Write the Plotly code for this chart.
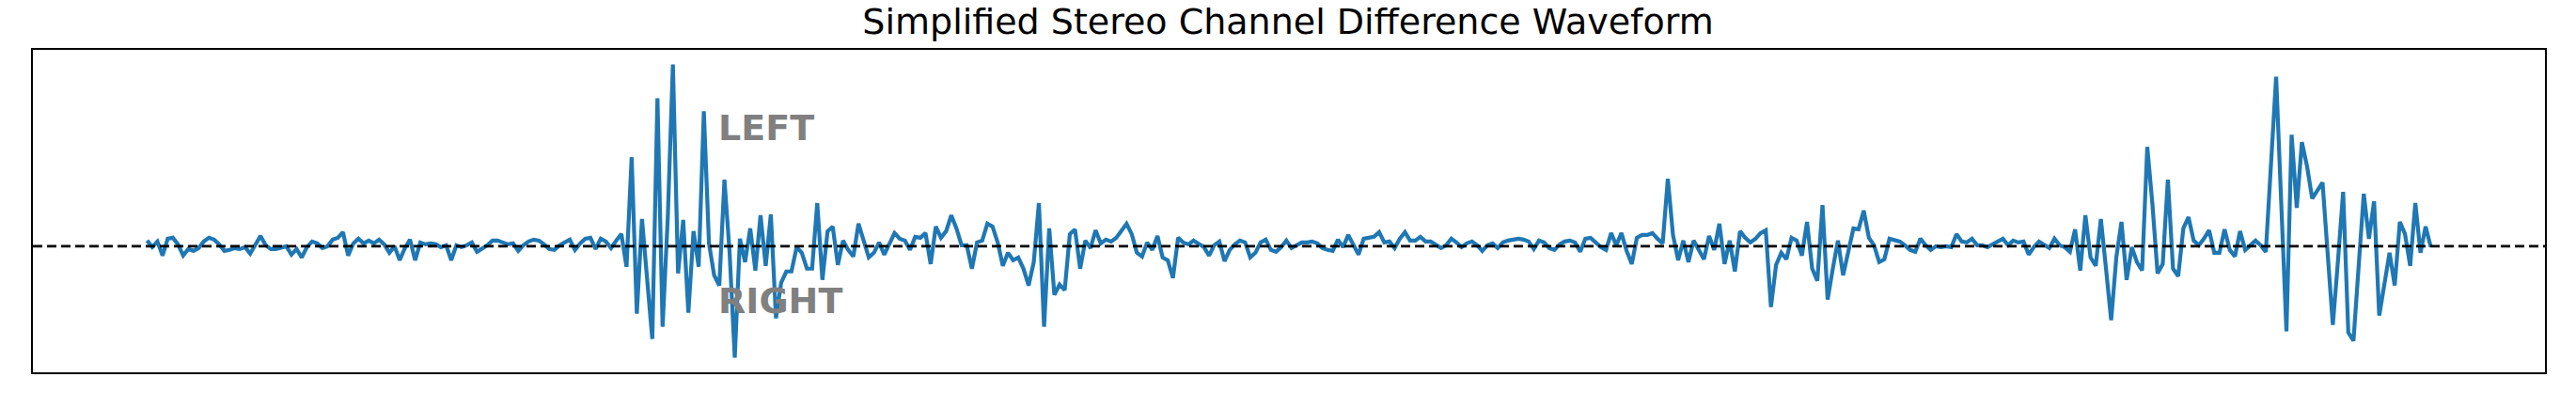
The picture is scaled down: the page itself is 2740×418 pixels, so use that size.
import numpy as np
import plotly.graph_objects as go

# Waveform values (channel difference), read segment by segment from left to right
seg_01 = [0.06, -0.01, 0.05, -0.10, 0.08, 0.09, 0.02, -0.10, -0.03, -0.05, -0.02, 0.05, 0.09, 0.07, 0.02,
          -0.05, -0.04, -0.02, -0.03, -0.01, -0.08, 0.01, 0.11, 0.01, -0.03, -0.03, -0.02, 0.00, -0.09, -0.03,
          -0.12, -0.01, 0.05, 0.03, -0.02, 0.00, 0.07, 0.09, 0.15, -0.10, 0.03, 0.08, 0.03]
seg_02 = [0.06, 0.03, 0.07, 0.02, -0.07, 0.00, -0.15, -0.02, 0.07, -0.15, 0.04, 0.02, 0.03, 0.02, -0.01,
          0.01, -0.15, 0.01, -0.01, 0.01, 0.04, -0.06, -0.03, 0.01, 0.06, 0.06, 0.04, 0.02, 0.03, -0.05,
          0.01, 0.05, 0.07, 0.06, 0.02, -0.03, -0.04, 0.01, 0.04, 0.07, -0.04, 0.03, 0.08, 0.09, -0.03, 0.08]
seg_03 = [0.05, -0.02, 0.06, 0.13, -0.22, 0.95, -0.72, 0.29, -0.35, -0.99, 1.58, -0.86, 0.30, 1.94, -0.29,
          0.28, -0.71, 0.16, -0.22, 1.44, 0.03, -0.31, -0.42, 0.71, -0.07, -1.19, 0.08, -0.17, 0.19, -0.26,
          0.33, -0.21, 0.34, -0.77, -0.39, -0.27, -0.27, -0.01, -0.07, -0.24, -0.24, 0.46, -0.36, 0.16, 0.21]
seg_04 = [-0.20, 0.06, -0.04, -0.11, 0.24, 0.06, -0.12, -0.07, 0.04, -0.09, 0.03, 0.14, 0.08, 0.06, -0.04,
          0.10, 0.09, 0.14, -0.19, 0.21, 0.09, 0.16, 0.33, 0.19, 0.01, 0.01, -0.24, 0.04, 0.06, 0.24,
          0.21, 0.04, -0.21, -0.07, -0.15, -0.12, -0.24, -0.42, -0.17, 0.46, -0.86, 0.19, -0.52, -0.41, -0.47, 0.13]
seg_05 = [0.18, -0.24, 0.06, -0.02, 0.17, 0.03, 0.07, 0.05, 0.09, 0.17, 0.24, 0.13, -0.07, -0.11, 0.04,
          -0.04, 0.11, -0.12, -0.15, -0.34, 0.09, 0.04, 0.02, 0.06, 0.03, -0.01, -0.10, 0.01, 0.05, -0.16,
          -0.04, 0.02, 0.06, 0.04, -0.12, -0.07, 0.04, 0.07, -0.04, -0.06, -0.01, 0.06, -0.02, 0.01, 0.04]
seg_06 = [0.04, 0.05, 0.03, -0.02, -0.04, -0.05, 0.07, -0.01, 0.12, 0.01, -0.09, 0.08, 0.09, 0.10, 0.15,
          0.04, 0.05, -0.02, 0.08, 0.15, 0.06, 0.06, 0.10, 0.05, 0.05, 0.01, -0.02, 0.01, 0.08, 0.04,
          -0.01, 0.03, 0.05, 0.01, -0.05, 0.01, 0.03, -0.02, 0.04, 0.06, 0.07, 0.08, 0.07, 0.05, -0.03, 0.06]
seg_07 = [0.04, -0.02, -0.04, 0.02, 0.05, 0.06, 0.04, -0.06, 0.08, 0.09, 0.04, -0.01, -0.04, 0.14, 0.01,
          0.14, -0.05, -0.19, 0.09, 0.12, 0.12, 0.14, 0.08, 0.03, 0.72, 0.12, -0.15, 0.06, -0.17, 0.06,
          -0.04, -0.14, 0.11, -0.04, 0.24, -0.19, 0.06, -0.27, 0.16, 0.09, 0.04, 0.08, 0.14, 0.17, -0.65, -0.20]
seg_08 = [-0.07, -0.14, 0.09, 0.06, -0.10, 0.26, -0.24, -0.37, 0.44, -0.57, -0.24, 0.06, -0.31, -0.07, 0.19,
          0.18, 0.38, 0.09, 0.01, -0.17, -0.14, 0.08, 0.06, 0.05, 0.01, -0.04, -0.06, 0.08, 0.01, -0.04,
          0.00, -0.01, 0.00, -0.01, 0.13, 0.05, 0.04, 0.08, 0.01, 0.01, -0.01, 0.02, 0.06, 0.08, 0.01]
seg_09 = [0.06, 0.04, 0.05, -0.09, -0.01, 0.05, 0.01, -0.02, 0.08, 0.01, -0.01, -0.06, 0.18, -0.26, 0.33,
          -0.12, -0.21, 0.29, -0.24, -0.79, -0.12, 0.26, -0.36, -0.01, -0.17, -0.26, 1.06, 0.45, -0.29, -0.19,
          0.71, -0.24, -0.32, 0.19, 0.31, 0.06, 0.01, 0.08, 0.17, -0.07, -0.07, 0.18, -0.04, -0.11, 0.16, -0.04]
seg_10 = [0.01, 0.06, 0.01, -0.06, 0.87, 1.81, 0.45, -0.91, 1.19, 0.41, 1.11, 0.85, 0.51, 0.60, 0.68,
          -0.08, -0.84, -0.15, 0.58, -0.92, -1.01, -0.22, 0.56, 0.08, 0.48, -0.74, -0.40, -0.07, -0.42, 0.26,
          0.13, -0.21, 0.46, -0.07, 0.21, -0.01]

segments = [seg_01, seg_02, seg_03, seg_04, seg_05, seg_06, seg_07, seg_08, seg_09, seg_10]
diff_values = np.concatenate([np.array(s, dtype=float) for s in segments])
sample_index = np.arange(len(diff_values))

title_text = "Simplified Stereo Channel Difference Waveform"
label_left = "LEFT"
label_right = "RIGHT"
label_x = 110.5
label_left_y = 1.26
label_right_y = -0.58

# autoscale like matplotlib (5% margins)
xmin, xmax = sample_index.min(), sample_index.max()
ymin, ymax = diff_values.min(), diff_values.max()
xpad = 0.05 * (xmax - xmin)
ypad = 0.05 * (ymax - ymin)

fig = go.Figure()
fig.add_trace(go.Scatter(
    x=sample_index, y=diff_values, mode="lines",
    line=dict(color="#1f77b4", width=4.2), showlegend=False, hoverinfo="skip"))

fig.add_shape(type="line", xref="paper", x0=0, x1=1, yref="y", y0=0, y1=0,
              line=dict(color="black", width=2.8, dash="10px,5px"), layer="above")

for txt, yy in [(label_left, label_left_y), (label_right, label_right_y)]:
    fig.add_annotation(x=label_x, y=yy, xref="x", yref="y", text=txt, showarrow=False,
                       xanchor="left", yanchor="middle",
                       font=dict(family="DejaVu Sans", size=38, color="#808080", weight="bold"))

fig.update_layout(
    width=2740, height=418,
    margin=dict(l=35, r=33, t=53, b=22),
    paper_bgcolor="white", plot_bgcolor="white",
    title=dict(text=title_text, x=0.5, xanchor="center", y=1 - 22.5 / 418, yanchor="middle",
               yref="container", font=dict(family="DejaVu Sans", size=38, color="black")),
    xaxis=dict(range=[xmin - xpad, xmax + xpad], showgrid=False, zeroline=False, showticklabels=False,
               ticks="", showline=True, linecolor="black", linewidth=2.2, mirror=True),
    yaxis=dict(range=[ymin - ypad, ymax + ypad], showgrid=False, zeroline=False, showticklabels=False,
               ticks="", showline=True, linecolor="black", linewidth=2.2, mirror=True),
)

fig.write_html("out.html", config={"displayModeBar": False},
               post_script="document.body.style.margin='0';")
